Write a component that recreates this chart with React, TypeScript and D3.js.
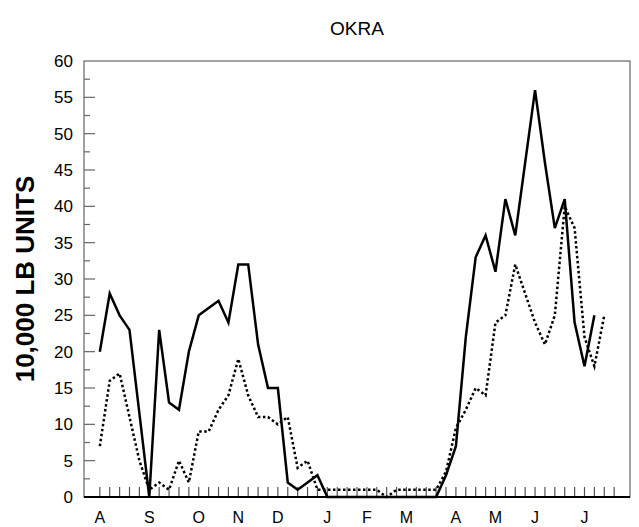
import React, { useEffect, useRef } from 'react';
import * as d3 from 'd3';

// weekly values, week 0 = first week of August
const solidValues: number[] = [
  20, 28, 25, 23, 11.5, 0, 23, 13, 12, 20, 25, 26, 27, 24, 32, 32, 21, 15, 15, 2,
  1, 2, 3, 0, 0, 0, 0, 0, 0, 0, 0, 0, 0, 0, 0, 3, 7, 22, 33, 36,
  31, 41, 36, 46, 56, 46, 37, 41, 24, 18, 25,
];

const dottedValues: number[] = [
  7, 16, 17, 11, 5, 1, 2, 1, 5, 2, 9, 9, 12, 14, 19, 14, 11, 11, 10, 11,
  4, 5, 1, 1, 1, 1, 1, 1, 1, 0, 1, 1, 1, 1, 1, 3.5, 9.5, 12, 15, 14,
  24, 25, 32, 28, 24, 21, 25, 40, 37, 22, 18, 25,
];

const monthLabels: string[] = ['A', 'S', 'O', 'N', 'D', 'J', 'F', 'M', 'A', 'M', 'J', 'J'];
const monthWeeks: number[] = [0, 5, 10, 14, 18, 23, 27, 31, 36, 40, 44, 49];
const weekCount = 53;

const yTicks: number[] = d3.range(0, 61, 5);
const yMinorTicks: number[] = d3.range(2.5, 60, 5);

const title = 'OKRA';
const yLabel = '10,000 LB UNITS';

const OkraChart: React.FC = () => {
  const chartRef = useRef<SVGSVGElement | null>(null);

  useEffect(() => {
    const root = d3.select(chartRef.current);
    root.selectAll('*').remove();

    const width = 639;
    const height = 527;
    const plot = { left: 84, right: 630, top: 61, bottom: 497 };
    const font = "'Liberation Sans', Arial, sans-serif";

    root.attr('width', width).attr('height', height);

    const xScale = d3.scaleLinear().domain([-1.6, 53.6]).range([plot.left, plot.right]);
    const yScale = d3.scaleLinear().domain([0, 60]).range([plot.bottom, plot.top]);

    // frame
    root
      .append('rect')
      .attr('x', plot.left)
      .attr('y', plot.top)
      .attr('width', plot.right - plot.left)
      .attr('height', plot.bottom - plot.top)
      .attr('fill', 'none')
      .attr('stroke', '#666')
      .attr('stroke-width', 1.2);

    // y axis ticks (inside)
    root
      .append('g')
      .selectAll('line.major')
      .data(yTicks.filter((d) => d > 0 && d < 60))
      .enter()
      .append('line')
      .attr('x1', plot.left)
      .attr('x2', plot.left + 11)
      .attr('y1', (d) => yScale(d))
      .attr('y2', (d) => yScale(d))
      .attr('stroke', '#666')
      .attr('stroke-width', 1.2);

    root
      .append('g')
      .selectAll('line.minor')
      .data(yMinorTicks)
      .enter()
      .append('line')
      .attr('x1', plot.left)
      .attr('x2', plot.left + 6)
      .attr('y1', (d) => yScale(d))
      .attr('y2', (d) => yScale(d))
      .attr('stroke', '#666')
      .attr('stroke-width', 1.2);

    root
      .append('g')
      .selectAll('text')
      .data(yTicks)
      .enter()
      .append('text')
      .attr('x', plot.left - 11)
      .attr('y', (d) => yScale(d))
      .attr('dy', '0.36em')
      .attr('text-anchor', 'end')
      .attr('font-family', font)
      .attr('font-size', 17)
      .attr('fill', '#000')
      .text((d) => d);

    // x axis week ticks
    root
      .append('g')
      .selectAll('line')
      .data(d3.range(weekCount))
      .enter()
      .append('line')
      .attr('x1', (d) => xScale(d))
      .attr('x2', (d) => xScale(d))
      .attr('y1', plot.bottom)
      .attr('y2', plot.bottom - 10)
      .attr('stroke', '#555')
      .attr('stroke-width', 1.2);

    root
      .append('line')
      .attr('x1', plot.left)
      .attr('x2', plot.right)
      .attr('y1', plot.bottom)
      .attr('y2', plot.bottom)
      .attr('stroke', '#000')
      .attr('stroke-width', 2);

    root
      .append('g')
      .selectAll('text')
      .data(monthLabels)
      .enter()
      .append('text')
      .attr('x', (_, i) => xScale(monthWeeks[i]))
      .attr('y', 523)
      .attr('text-anchor', 'middle')
      .attr('font-family', font)
      .attr('font-size', 16)
      .attr('fill', '#000')
      .text((d) => d);

    // lines
    const line = d3
      .line<number>()
      .x((_, i) => xScale(i))
      .y((d) => yScale(d));

    root
      .append('path')
      .datum(dottedValues)
      .attr('d', line)
      .attr('fill', 'none')
      .attr('stroke', '#000')
      .attr('stroke-width', 2.5)
      .attr('stroke-dasharray', '2.5,2.5');

    root
      .append('path')
      .datum(solidValues)
      .attr('d', line)
      .attr('fill', 'none')
      .attr('stroke', '#000')
      .attr('stroke-width', 2.5)
      .attr('stroke-linejoin', 'miter');

    // title and y label
    root
      .append('text')
      .attr('x', (plot.left + plot.right) / 2)
      .attr('y', 35)
      .attr('text-anchor', 'middle')
      .attr('font-family', font)
      .attr('font-size', 19)
      .attr('fill', '#000')
      .text(title);

    root
      .append('text')
      .attr('transform', `translate(34,${(plot.top + plot.bottom) / 2}) rotate(-90)`)
      .attr('text-anchor', 'middle')
      .attr('font-family', font)
      .attr('font-weight', 'bold')
      .attr('font-size', 26)
      .attr('fill', '#000')
      .text(yLabel);
  }, []);

  return <svg ref={chartRef} style={{ position: 'absolute', left: 0, top: 0 }}></svg>;
};

export default function App() {
  return <OkraChart />;
}
